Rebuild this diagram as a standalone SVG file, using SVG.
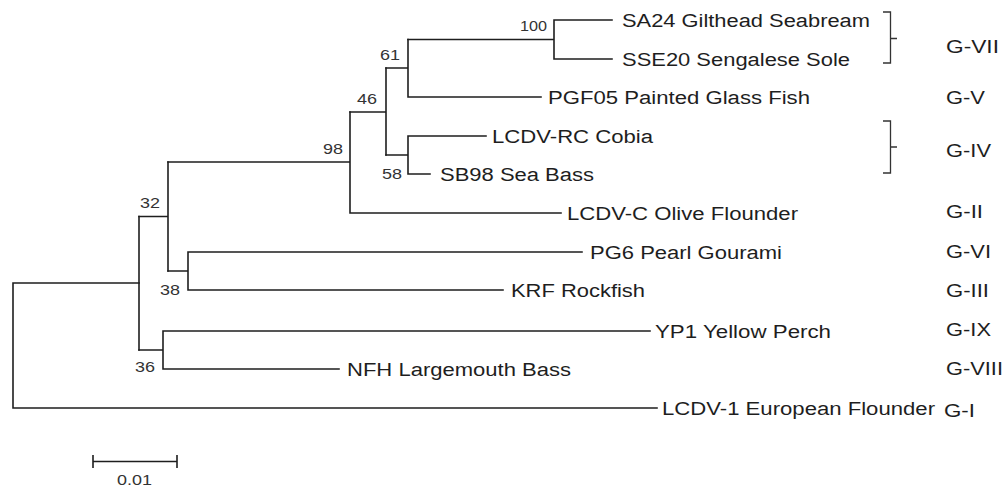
<svg xmlns="http://www.w3.org/2000/svg" width="1008" height="488" viewBox="0 0 1008 488">
<style>
.br{fill:none;stroke:#1e1e1e;stroke-width:1.6;stroke-linecap:square}
.lf{font-family:"Liberation Sans",Arial,sans-serif;font-size:18px;fill:#1e1e1e}
.bs{font-family:"Liberation Sans",Arial,sans-serif;font-size:15px;fill:#333}
.gp{font-family:"Liberation Sans",Arial,sans-serif;font-size:18px;fill:#1e1e1e}
.bk{fill:none;stroke:#333;stroke-width:1.3}
</style>
<rect width="1008" height="488" fill="#fff"/>
<g id="connectors" class="br">
<path d="M139,283 H13 V408 H657"/>
<path d="M139,216.5 V350"/>
<path d="M139,216.5 H168 M168,162 V271"/>
<path d="M168,162 H350 M350,112 V213 H561"/>
<path d="M350,112 H386 M386,68 V155"/>
<path d="M386,68 H408 M408,39.5 V97 H541"/>
<path d="M408,39.5 H554 M554,20 V59 M554,20 H612 M554,59 H612"/>
<path d="M386,155 H408 M408,136 V174 M408,136 H486 M408,174 H430"/>
<path d="M168,271 H188 M188,252 V290 M188,252 H582 M188,290 H503"/>
<path d="M139,350 H163 M163,331 V369 M163,331 H650 M163,369 H339"/>
</g>
<g id="leaf-sa24"><text class="lf" x="622" y="27" textLength="248" lengthAdjust="spacingAndGlyphs">SA24 Gilthead Seabream</text></g>
<g id="leaf-sse20"><text class="lf" x="622" y="66" textLength="228" lengthAdjust="spacingAndGlyphs">SSE20 Sengalese Sole</text></g>
<g id="leaf-pgf05"><text class="lf" x="548" y="104" textLength="262" lengthAdjust="spacingAndGlyphs">PGF05 Painted Glass Fish</text></g>
<g id="leaf-lcdvrc"><text class="lf" x="492" y="143" textLength="161" lengthAdjust="spacingAndGlyphs">LCDV-RC Cobia</text></g>
<g id="leaf-sb98"><text class="lf" x="440" y="181" textLength="154" lengthAdjust="spacingAndGlyphs">SB98 Sea Bass</text></g>
<g id="leaf-lcdvc"><text class="lf" x="567" y="220" textLength="231" lengthAdjust="spacingAndGlyphs">LCDV-C Olive Flounder</text></g>
<g id="leaf-pg6"><text class="lf" x="590" y="259" textLength="192" lengthAdjust="spacingAndGlyphs">PG6 Pearl Gourami</text></g>
<g id="leaf-krf"><text class="lf" x="511" y="297" textLength="134" lengthAdjust="spacingAndGlyphs">KRF Rockfish</text></g>
<g id="leaf-yp1"><text class="lf" x="655" y="338" textLength="176" lengthAdjust="spacingAndGlyphs">YP1 Yellow Perch</text></g>
<g id="leaf-nfh"><text class="lf" x="347" y="376" textLength="224" lengthAdjust="spacingAndGlyphs">NFH Largemouth Bass</text></g>
<g id="leaf-lcdv1"><text class="lf" x="662" y="415" textLength="273" lengthAdjust="spacingAndGlyphs">LCDV-1 European Flounder</text></g>
<g id="node-100"><text class="bs" x="520" y="31" textLength="27" lengthAdjust="spacingAndGlyphs">100</text></g>
<g id="node-61"><text class="bs" x="380" y="60" textLength="20" lengthAdjust="spacingAndGlyphs">61</text></g>
<g id="node-46"><text class="bs" x="357" y="104" textLength="20" lengthAdjust="spacingAndGlyphs">46</text></g>
<g id="node-98"><text class="bs" x="323" y="154" textLength="20" lengthAdjust="spacingAndGlyphs">98</text></g>
<g id="node-58"><text class="bs" x="382" y="179" textLength="20" lengthAdjust="spacingAndGlyphs">58</text></g>
<g id="node-32"><text class="bs" x="140" y="208" textLength="20" lengthAdjust="spacingAndGlyphs">32</text></g>
<g id="node-38"><text class="bs" x="160" y="295" textLength="20" lengthAdjust="spacingAndGlyphs">38</text></g>
<g id="node-36"><text class="bs" x="135" y="372" textLength="20" lengthAdjust="spacingAndGlyphs">36</text></g>
<g id="bracket-gvii"><path class="bk" d="M883,12 H890.5 V63 H883 M890.5,38.5 H897"/></g>
<g id="bracket-giv"><path class="bk" d="M883,121 H890.5 V173 H883 M890.5,147 H897"/></g>
<g id="group-labels">
<text class="gp" x="946" y="53" textLength="53" lengthAdjust="spacingAndGlyphs">G-VII</text>
<text class="gp" x="946" y="104" textLength="39" lengthAdjust="spacingAndGlyphs">G-V</text>
<text class="gp" x="946" y="157" textLength="45" lengthAdjust="spacingAndGlyphs">G-IV</text>
<text class="gp" x="946" y="218" textLength="37" lengthAdjust="spacingAndGlyphs">G-II</text>
<text class="gp" x="946" y="258" textLength="45" lengthAdjust="spacingAndGlyphs">G-VI</text>
<text class="gp" x="946" y="297" textLength="43" lengthAdjust="spacingAndGlyphs">G-III</text>
<text class="gp" x="946" y="336" textLength="45" lengthAdjust="spacingAndGlyphs">G-IX</text>
<text class="gp" x="946" y="375" textLength="57" lengthAdjust="spacingAndGlyphs">G-VIII</text>
<text class="gp" x="944" y="417" textLength="31" lengthAdjust="spacingAndGlyphs">G-I</text>
</g>
<g id="scale-bar">
<path class="br" d="M93,461.5 H177 M93,455 V468 M177,455 V468" style="stroke-linecap:butt"/>
<text class="bs" x="117" y="485" textLength="35" lengthAdjust="spacingAndGlyphs">0.01</text>
</g>
</svg>
